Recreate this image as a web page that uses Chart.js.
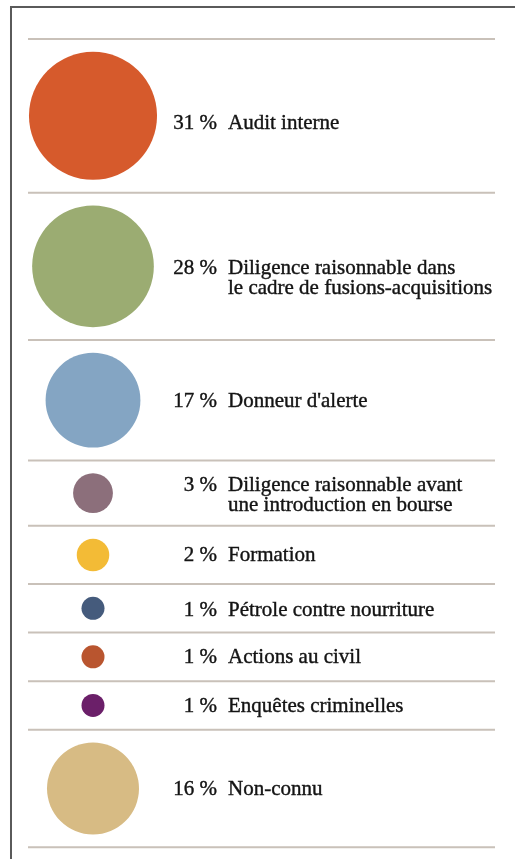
<!DOCTYPE html>
<html>
<head>
<meta charset="utf-8">
<script src="https://cdn.jsdelivr.net/npm/chart.js@4/dist/chart.umd.min.js"></script>
<style>
  html, body { margin: 0; padding: 0; background: #ffffff; }
  #wrap { position: relative; width: 515px; height: 859px; overflow: hidden; }
  #frame { position: absolute; left: 10px; top: 6px; width: 540px; height: 900px;
           border-left: 2px solid #5a5a5a; border-top: 2px solid #5a5a5a;
           box-shadow: -0.5px -0.5px 1px #aaaaaa; }
  canvas { position: absolute; }
</style>
</head>
<body>
<div id="wrap">
  <div id="frame"></div>
  <canvas id="c"></canvas>
</div>
<script>
// ---- data ----
const categories = [
  ['Audit interne'],
  ['Diligence raisonnable dans', 'le cadre de fusions-acquisitions'],
  ["Donneur d'alerte"],
  ['Diligence raisonnable avant', 'une introduction en bourse'],
  ['Formation'],
  ['Pétrole contre nourriture'],
  ['Actions au civil'],
  ['Enquêtes criminelles'],
  ['Non-connu']
];
const shares = [31, 28, 17, 3, 2, 1, 1, 1, 16];
const colors = ['#d65a2c', '#9bac72', '#84a5c3', '#8c6f7b', '#f3bb36', '#455b7c', '#b9552f', '#6b1f69', '#d7bb84'];

// ---- layout (style constants) ----
const W = 515, H = 859;
const topLine = 39;       // first separator
const rowPad = 25.6;      // space above+below each bubble
const radiusK = 11.5;     // bubble radius = K * sqrt(share)  (area ∝ share)
const bubbleX = 93;
const pctRight = 217;
const labelLeft = 228;
const fontSize = 21;
const lineH = 20;
const textShift = [6, 11, 0, 1, -1, 1, -1, 0, 0];

// compute rows from data
const radii = shares.map(v => radiusK * Math.sqrt(v));
const bounds = [topLine];
radii.forEach(r => bounds.push(bounds[bounds.length - 1] + 2 * r + rowPad));
const centers = radii.map((r, i) => (bounds[i] + bounds[i + 1]) / 2);
const points = shares.map((v, i) => ({ x: bubbleX, y: centers[i], r: radii[i] }));

// bubble charts reserve padding for the largest bubble; put that padding outside the page
const PAD = Math.ceil(Math.max(...radii)) + 1;
const cv = document.getElementById('c');
cv.width = W + 2 * PAD; cv.height = H + 2 * PAD;
cv.style.left = (-PAD) + 'px'; cv.style.top = (-PAD) + 'px';

const decor = {
  id: 'decor',
  beforeDatasetsDraw(chart) {
    const ctx = chart.ctx, ys = chart.scales.y, xs = chart.scales.x;
    ctx.save();
    ctx.strokeStyle = '#c9c1b9';
    ctx.lineWidth = 2;
    bounds.forEach(b => {
      const y = ys.getPixelForValue(b);
      ctx.beginPath();
      ctx.moveTo(xs.getPixelForValue(28), y);
      ctx.lineTo(xs.getPixelForValue(495), y);
      ctx.stroke();
    });
    ctx.restore();
  },
  afterDatasetsDraw(chart) {
    const ctx = chart.ctx, xs = chart.scales.x;
    const meta = chart.getDatasetMeta(0);
    ctx.save();
    ctx.fillStyle = '#141414';
    ctx.strokeStyle = '#141414';
    ctx.lineWidth = 0.4;
    ctx.font = fontSize + 'px "Liberation Serif", "Times New Roman", serif';
    ctx.textBaseline = 'alphabetic';
    const capH = 0.66 * fontSize;
    const put = (t, x, y) => { ctx.fillText(t, x, y); ctx.strokeText(t, x, y); };
    meta.data.forEach((el, i) => {
      const lines = categories[i];
      const blockH = capH + (lines.length - 1) * lineH;
      const cy = el.y + textShift[i];
      const base = cy - blockH / 2 + capH;
      ctx.textAlign = 'right';
      put(shares[i] + ' %', xs.getPixelForValue(pctRight), base);
      ctx.textAlign = 'left';
      lines.forEach((t, j) => put(t, xs.getPixelForValue(labelLeft), base + j * lineH));
    });
    ctx.restore();
  }
};

new Chart(cv, {
  type: 'bubble',
  data: {
    datasets: [{
      data: points,
      backgroundColor: colors,
      borderWidth: 0,
      hoverBorderWidth: 0
    }]
  },
  options: {
    responsive: false,
    devicePixelRatio: 1,
    animation: false,
    layout: { padding: PAD },
    plugins: { legend: { display: false }, tooltip: { enabled: false } },
    events: [],
    scales: {
      x: { type: 'linear', min: 0, max: W, display: false },
      y: { type: 'linear', min: 0, max: H, reverse: true, display: false }
    },
    clip: false
  },
  plugins: [decor]
});
</script>
</body>
</html>
